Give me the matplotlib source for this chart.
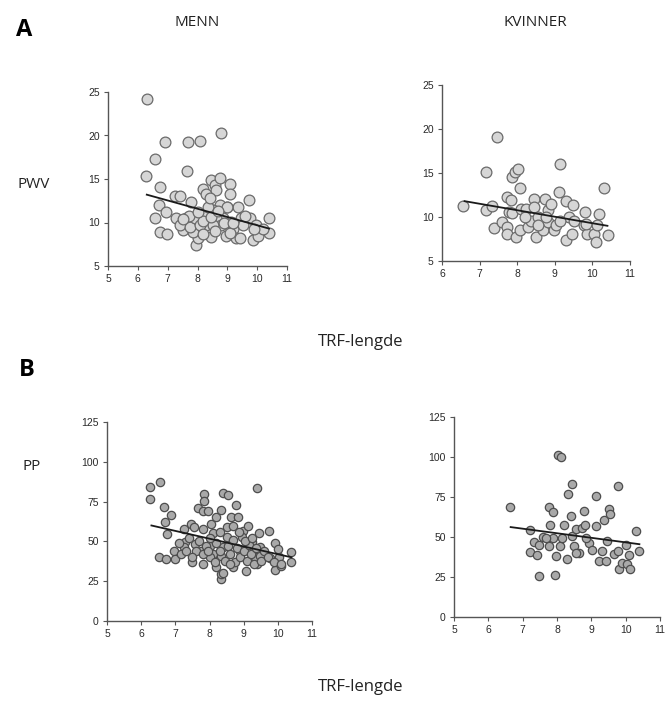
import matplotlib
matplotlib.use("Agg")
import matplotlib.pyplot as plt

# --- data (TRF length vs PWV / PP) ---
men_pwv_x = [6.31, 6.90, 7.68, 8.10, 8.80, 6.56, 7.66, 6.28, 6.75, 7.23, 7.43, 6.70,
             6.56, 6.96, 6.73, 6.98, 7.29, 7.51, 7.63, 7.79, 7.96, 8.02, 8.18, 8.30,
             8.46, 8.58, 8.74, 8.63, 9.08, 9.10, 9.36, 9.73, 9.00, 8.24, 8.46, 8.85,
             8.97, 9.19, 9.30, 9.41, 9.47, 9.75, 9.86, 10.03, 9.97, 10.40, 10.40, 10.20,
             7.85, 7.40, 7.74, 7.90, 8.30, 8.63, 8.74, 9.13, 9.53, 8.52, 8.80, 8.35,
             8.41, 8.07, 8.18, 8.52, 9.00, 8.20, 8.60, 9.10, 8.90, 7.70, 8.00, 9.60,
             8.45, 9.20, 7.50, 8.70, 9.90]
men_pwv_y = [24.2, 19.2, 19.2, 19.4, 20.3, 17.3, 15.9, 15.3, 14.1, 13.1, 13.0, 12.0,
             10.5, 11.2, 8.9, 8.7, 10.5, 9.1, 10.5, 12.4, 7.4, 8.2, 13.9, 13.3,
             14.9, 14.3, 15.1, 13.7, 14.4, 13.3, 11.8, 12.6, 11.8, 10.8, 8.3, 10.5,
             8.5, 9.3, 8.2, 8.2, 10.5, 10.5, 8.0, 8.5, 9.7, 10.5, 8.8, 9.3,
             8.9, 9.7, 9.5, 10.5, 9.7, 10.5, 12.0, 10.1, 9.7, 11.4, 9.7, 11.8,
             12.8, 9.7, 8.7, 9.7, 11.8, 10.2, 9.0, 8.8, 10.0, 10.8, 11.2, 10.8,
             10.6, 9.9, 10.4, 11.3, 9.2]

women_pwv_x = [6.57, 7.18, 7.46, 7.18, 7.33, 7.37, 7.59, 7.72, 7.83, 7.77, 7.72, 7.72,
               7.87, 7.93, 8.03, 8.07, 7.98, 7.85, 8.07, 8.11, 8.24, 8.29, 8.37, 8.46,
               8.46, 8.50, 8.55, 8.68, 8.74, 8.81, 8.90, 8.81, 8.98, 9.03, 9.14, 9.11,
               9.29, 9.29, 9.37, 9.46, 9.49, 9.50, 9.79, 9.77, 9.86, 10.03, 10.10, 10.18,
               10.11, 10.30, 10.42, 9.14, 8.77, 8.20, 8.55, 9.82]
women_pwv_y = [11.2, 15.1, 19.1, 10.8, 11.3, 8.7, 9.4, 12.3, 11.9, 10.6, 8.9, 8.1,
               14.5, 15.1, 15.4, 13.3, 7.7, 10.4, 8.5, 10.9, 10.9, 8.9, 9.6, 12.1,
               11.1, 7.7, 10.0, 8.5, 12.1, 10.8, 11.5, 9.4, 8.5, 9.1, 16.0, 12.8,
               11.8, 7.4, 10.0, 8.1, 11.4, 9.6, 10.6, 9.1, 8.1, 8.1, 7.2, 10.3,
               9.1, 13.3, 8.0, 9.6, 10.0, 10.0, 9.1, 9.2]

men_pp_x = [6.27, 6.27, 6.56, 6.66, 6.69, 6.76, 6.88, 6.53, 6.74, 6.96, 6.99, 7.26,
            7.29, 7.26, 7.46, 7.48, 7.55, 7.65, 7.75, 7.85, 7.85, 7.80, 7.95, 7.80,
            7.82, 8.00, 8.05, 8.20, 8.20, 8.35, 8.40, 8.54, 8.50, 8.35, 8.35, 8.64,
            8.69, 8.77, 8.84, 8.69, 8.99, 9.07, 9.14, 9.40, 9.39, 9.48, 9.75, 9.78,
            9.93, 9.93, 10.08, 10.38, 10.38, 7.59, 8.10, 8.35, 8.40, 8.50, 8.89, 9.24,
            9.34, 9.48, 10.03, 7.16, 7.40, 7.60, 7.70, 7.90, 8.00, 8.10, 8.20, 8.30,
            8.45, 8.55, 8.60, 8.70, 8.75, 8.80, 8.90, 8.95, 9.00, 9.10, 9.15, 9.20,
            9.30, 9.35, 9.50, 9.60, 9.70, 9.90, 10.00, 10.10, 7.30, 7.50, 7.80, 8.00,
            8.30, 8.60, 8.85, 9.05, 9.25, 8.40, 8.15, 7.95, 9.45, 7.10]
men_pp_y = [83.9, 76.6, 87.0, 71.8, 62.3, 54.6, 66.7, 40.0, 38.9, 43.7, 38.9, 57.7,
            49.4, 46.2, 60.9, 36.8, 58.8, 70.9, 44.1, 79.7, 75.5, 69.2, 69.2, 57.7,
            35.8, 47.3, 60.9, 33.7, 65.1, 69.7, 80.1, 79.3, 58.8, 26.4, 29.5, 65.1,
            59.8, 73.0, 65.5, 33.7, 56.7, 31.6, 59.8, 83.5, 35.8, 46.2, 56.3, 39.7,
            49.3, 32.0, 34.7, 43.1, 36.8, 48.3, 42.1, 41.0, 46.2, 52.5, 44.1, 49.4,
            40.0, 41.0, 40.0, 42.0, 52.0, 44.0, 50.0, 47.0, 40.0, 55.0, 49.0, 44.0,
            38.0, 47.0, 42.0, 51.0, 37.0, 46.0, 40.0, 53.0, 44.0, 38.0, 48.0, 42.0,
            36.0, 46.0, 38.0, 44.0, 40.0, 37.0, 45.0, 36.0, 44.0, 40.0, 42.0, 52.0,
            56.0, 36.0, 56.0, 50.0, 52.0, 30.0, 37.0, 44.0, 55.0, 49.0]

women_pp_x = [6.64, 7.20, 7.20, 7.34, 7.41, 7.47, 7.49, 7.60, 7.76, 7.78, 7.80, 7.89,
              7.87, 7.95, 7.97, 8.02, 8.12, 8.09, 8.21, 8.31, 8.28, 8.41, 8.43, 8.43,
              8.50, 8.55, 8.65, 8.72, 8.79, 8.82, 8.94, 9.03, 9.13, 9.15, 9.23, 9.30,
              9.37, 9.42, 9.47, 9.50, 9.53, 9.66, 9.79, 9.79, 9.81, 9.90, 10.02, 10.04,
              10.11, 10.14, 10.29, 10.40, 8.55, 8.84, 8.16, 7.68]
women_pp_y = [68.8, 54.2, 40.4, 46.7, 38.5, 45.2, 25.4, 50.0, 44.2, 68.5, 57.7, 65.4,
              49.4, 26.5, 37.9, 101.5, 99.8, 44.2, 57.7, 77.1, 36.3, 62.9, 83.1, 50.4,
              44.6, 55.0, 40.0, 55.6, 66.0, 57.7, 46.2, 42.1, 56.7, 75.8, 34.8, 41.0,
              60.8, 34.8, 47.3, 67.7, 64.6, 39.6, 82.1, 41.0, 30.0, 33.7, 45.2, 33.3,
              39.0, 30.3, 54.0, 41.0, 40.0, 49.4, 49.4, 49.4]

# regression lines as drawn in the figure (end points)
fit_men_pwv = ([6.3, 10.4], [13.2, 9.3])
fit_women_pwv = ([6.6, 10.4], [11.8, 9.0])
fit_men_pp = ([6.3, 10.4], [60.0, 40.0])
fit_women_pp = ([6.65, 10.4], [56.2, 45.5])

pwv_ticks = [5, 10, 15, 20, 25]
pp_ticks = [0, 25, 50, 75, 100, 125]

fig = plt.figure(figsize=(6.66, 7.06), dpi=100)

W, H = 666.0, 706.0


def make_axes(x0, x1, y0, y1):
    # pixel box -> figure fraction
    return fig.add_axes([x0 / W, 1 - y0 / H, (x1 - x0) / W, (y0 - y1) / H])


def style(ax, xlim, ylim, yticks):
    ax.set_xlim(*xlim)
    ax.set_ylim(*ylim)
    ax.set_xticks(range(xlim[0], xlim[1] + 1))
    ax.set_yticks(yticks)
    for s in ("top", "right"):
        ax.spines[s].set_visible(False)
    for s in ("left", "bottom"):
        ax.spines[s].set_color("#555555")
        ax.spines[s].set_linewidth(1.0)
    ax.tick_params(length=3, width=0.8, color="#555555", labelsize=7.5,
                   labelcolor="#2a2a2a", pad=3)
    for lab in ax.get_xticklabels() + ax.get_yticklabels():
        lab.set_family("Liberation Sans")
    ax.patch.set_alpha(0)


top_kw = dict(s=60, facecolor="#d6d6d6", edgecolor="#6a6a6a", linewidths=0.9, zorder=2)
bot_kw = dict(s=36, facecolor="#a9a9a9", edgecolor="#4d4d4d", linewidths=0.9, zorder=2)
line_kw = dict(color="#1a1a1a", lw=1.3, zorder=3)

ax1 = make_axes(108, 287, 266, 92)
ax1.scatter(men_pwv_x, men_pwv_y, **top_kw)
ax1.plot(*fit_men_pwv, **line_kw)
style(ax1, (5, 11), (5, 25), pwv_ticks)

ax2 = make_axes(442, 630, 261, 85)
ax2.scatter(women_pwv_x, women_pwv_y, **top_kw)
ax2.plot(*fit_women_pwv, **line_kw)
style(ax2, (6, 11), (5, 25), pwv_ticks)

ax3 = make_axes(107, 312, 621, 422)
ax3.scatter(men_pp_x, men_pp_y, **bot_kw)
ax3.plot(*fit_men_pp, **line_kw)
style(ax3, (5, 11), (0, 125), pp_ticks)

ax4 = make_axes(454, 660, 617, 417)
ax4.scatter(women_pp_x, women_pp_y, **bot_kw)
ax4.plot(*fit_women_pp, **line_kw)
style(ax4, (5, 11), (0, 125), pp_ticks)

lab_font = ["Open Sans", "DejaVu Sans"]


def ftext(px, py, s, color="#222222", **kw):
    fig.text(px / W, 1 - py / H, s, ha="center", va="center", family=lab_font,
             color=color, **kw)


ftext(24, 30, "A", fontsize=17, fontweight="bold", color="black")
ftext(197, 22, "MENN", fontsize=11)
ftext(535, 22, "KVINNER", fontsize=11)
ftext(34, 185, "PWV", fontsize=11)
ftext(361, 342, "TRF-lengde", fontsize=12)
ftext(27, 370, "B", fontsize=17, fontweight="bold", color="black")
ftext(32, 466, "PP", fontsize=11)
ftext(361, 687, "TRF-lengde", fontsize=12)

fig.savefig("out.png", dpi=100, facecolor="white")
